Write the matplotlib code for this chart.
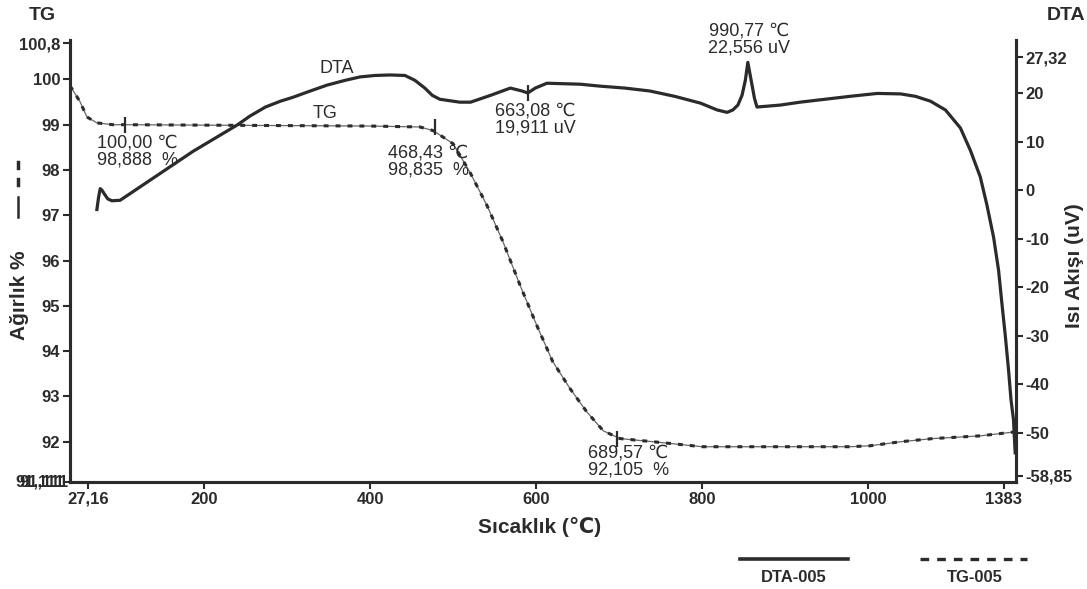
import matplotlib
matplotlib.use("Agg")
import matplotlib.pyplot as plt
from matplotlib.lines import Line2D
from matplotlib.transforms import blended_transform_factory

plt.rcParams["font.family"] = ["Liberation Sans", "DejaVu Sans"]

INK = "#2b2b2b"
W, H = 1087, 589

# nominal temperature axis; the instrument prints its own labels on it
X_TICKS = [60, 200, 400, 600, 800, 1000, 1163]
X_LABELS = ["27,16", "200", "400", "600", "800", "1000", "1383"]

# TG: weight %
TG_T = [38.6, 50.6, 59, 71, 90, 105, 200, 300, 400, 460, 476, 500, 520, 541, 560,
        581, 601, 620, 641, 661, 681, 701, 741, 800, 900, 978, 1002, 1039, 1078,
        1135, 1178]
TG_W = [99.86, 99.51, 99.17, 99.04, 99.0, 99.0, 98.99, 98.98, 98.97, 98.95, 98.87,
        98.58, 97.96, 97.21, 96.42, 95.44, 94.56, 93.77, 93.17, 92.66, 92.24, 92.07,
        92.0, 91.89, 91.89, 91.89, 91.91, 92.0, 92.07, 92.13, 92.22]

# DTA: heat flow, uV
DTA_T = [71, 73, 75, 77, 80, 84, 89, 99, 187, 240, 255, 274, 292, 307, 328, 348,
         370, 388, 406, 424, 442, 454, 466, 475, 484, 508, 521, 545, 569, 583, 590,
         599, 613, 653, 677, 707, 737, 767, 798, 818, 830, 837, 843, 848, 852, 855,
         859, 863, 866, 894, 918, 948, 978, 1011, 1039, 1057, 1075, 1093, 1111,
         1123, 1135, 1143, 1151, 1157, 1161, 1165, 1169, 1172, 1175, 1176, 1177]
DTA_V = [-4.0, -1.5, 0.3, 0.0, -0.8, -1.8, -2.2, -2.1, 8.0, 13.4, 15.2, 17.1,
         18.3, 19.1, 20.4, 21.6, 22.6, 23.3, 23.6, 23.7, 23.6, 22.6, 21.0, 19.5,
         18.7, 18.1, 18.1, 19.5, 21.0, 20.4, 20.0, 21.0, 22.0, 21.8, 21.4, 21.0,
         20.4, 19.3, 17.9, 16.5, 16.0, 16.5, 17.5, 19.5, 22.6, 26.3, 22.6, 18.9,
         17.1, 17.5, 18.1, 18.7, 19.3, 19.9, 19.8, 19.3, 18.3, 16.5, 12.8, 8.2,
         2.7, -3.1, -9.7, -16.5, -23.3, -29.8, -37.0, -43.2, -47.3, -50.8, -54.1]

TG_YTICKS = [91.111, 92, 93, 94, 95, 96, 97, 98, 99, 100, 100.8]
TG_YLABELS = ["91,111", "92", "93", "94", "95", "96", "97", "98", "99", "100", "100,8"]
DTA_YTICKS = [-58.85, -50, -40, -30, -20, -10, 0, 10, 20, 27.32]
DTA_YLABELS = ["-58,85", "-50", "-40", "-30", "-20", "-10", "0", "10", "20", "27,32"]

# marked points: x, y, text
TG_MARKS = [(105, 99.0, "100,00 ℃\n98,888  %"),
            (478, 98.95, "468,43 ℃\n98,835  %"),
            (698, 92.07, "689,57 ℃\n92,105  %")]
DTA_MARKS = [(590, 20.0, "663,08 ℃\n19,911 uV")]
DTA_PEAK = (855, 26.3, "990,77 ℃\n22,556 uV")

fig = plt.figure(figsize=(W / 100, H / 100), dpi=100)
ax = fig.add_axes([70 / W, 1 - 482 / H, (1016 - 70) / W, (482 - 40) / H])
ax2 = ax.twinx()

ax.set_xlim(38.6, 1178)
ax.set_ylim(91.111, 100.87)
ax2.set_ylim(-60.1, 30.9)

for a in (ax, ax2):
    a.spines["top"].set_visible(False)
    for s in ("left", "right", "bottom"):
        a.spines[s].set_linewidth(2.2)
        a.spines[s].set_color(INK)
    a.tick_params(colors=INK, width=1.5, length=5, pad=2, labelsize=12)

ax.set_xticks(X_TICKS)
ax.set_xticklabels(X_LABELS, fontweight="bold")
ax.set_yticks(TG_YTICKS)
ax.set_yticklabels(TG_YLABELS, fontweight="bold")
ax2.set_yticks(DTA_YTICKS)
ax2.set_yticklabels(DTA_YLABELS, fontweight="bold")
ax.yaxis.get_ticklabels()[0].set_visible(False)

# the bottom-left label is printed twice, slightly shifted
bt = blended_transform_factory(fig.transFigure, ax.transData)
for dx in (64, 69):
    ax.text(dx / W, 91.111, "91,111", transform=bt, ha="right", va="center",
            fontsize=12, fontweight="bold", color=INK)

# TG: thin trace with dashes over it
ax.plot(TG_T, TG_W, color="#666666", lw=0.9, zorder=2)
ax.plot(TG_T, TG_W, color=INK, lw=2.2, ls=(0, (1.6, 2.3)), zorder=3)
ax2.plot(DTA_T, DTA_V, color=INK, lw=2.3, zorder=4, solid_joinstyle="round")

txt = dict(fontsize=13, color=INK, linespacing=1.0, ha="left", va="top")
for (x, y, s), off in zip(TG_MARKS, [(-28, -10), (-47, -18), (-29, -6)]):
    ax.plot([x], [y], marker="|", ms=11, mew=1.6, color=INK, zorder=5)
    ax.annotate(s, (x, y), xytext=off, textcoords="offset pixels", **txt)
for (x, y, s), off in zip(DTA_MARKS, [(-33, -10)]):
    ax2.plot([x], [y], marker="|", ms=11, mew=1.6, color=INK, zorder=5)
    ax2.annotate(s, (x, y), xytext=off, textcoords="offset pixels", **txt)
px, py, ps = DTA_PEAK
ax2.annotate(ps, (px, py), xytext=(1, 6), textcoords="offset pixels",
             fontsize=13, color=INK, linespacing=1.0, ha="center", va="bottom")

ax2.text(360, 25.1, "DTA", fontsize=13, color=INK, ha="center", va="center")
ax.text(346, 99.24, "TG", fontsize=13, color=INK, ha="center", va="center")

# titles and axis names
fig.text(42 / W, 1 - 15 / H, "TG", fontsize=14, fontweight="bold", color=INK,
         ha="center", va="center")
fig.text(1066 / W, 1 - 15 / H, "DTA", fontsize=14, fontweight="bold", color=INK,
         ha="center", va="center")
fig.text(540 / W, 1 - 527 / H, "Sıcaklık (℃)", fontsize=15, fontweight="bold",
         color=INK, ha="center", va="center")
fig.text(20 / W, 1 - 295 / H, "Ağırlık %", fontsize=15, fontweight="bold",
         color=INK, ha="center", va="center", rotation=90)
fig.text(1074 / W, 1 - 266 / H, "Isı Akışı (uV)", fontsize=15, fontweight="bold",
         color=INK, ha="center", va="center", rotation=90)

# line keys next to the weight label
ff = fig.transFigure
fig.add_artist(Line2D([18 / W, 18 / W], [1 - 197 / H, 1 - 217 / H], transform=ff,
                      color=INK, lw=1.8))
for yy in (165, 182):
    fig.add_artist(Line2D([18 / W, 18 / W], [1 - (yy - 3) / H, 1 - (yy + 3) / H],
                          transform=ff, color=INK, lw=2.5))

# legend
fig.add_artist(Line2D([740 / W, 848 / W], [1 - 559 / H] * 2, transform=ff,
                      color=INK, lw=2.6))
fig.add_artist(Line2D([920 / W, 1027 / W], [1 - 559 / H] * 2, transform=ff,
                      color=INK, lw=2.4, ls=(0, (2.6, 2.4))))
fig.text(794 / W, 1 - 578 / H, "DTA-005", fontsize=12, fontweight="bold",
         color=INK, ha="center", va="center")
fig.text(975 / W, 1 - 578 / H, "TG-005", fontsize=12, fontweight="bold",
         color=INK, ha="center", va="center")

fig.savefig("out.png", dpi=100)
